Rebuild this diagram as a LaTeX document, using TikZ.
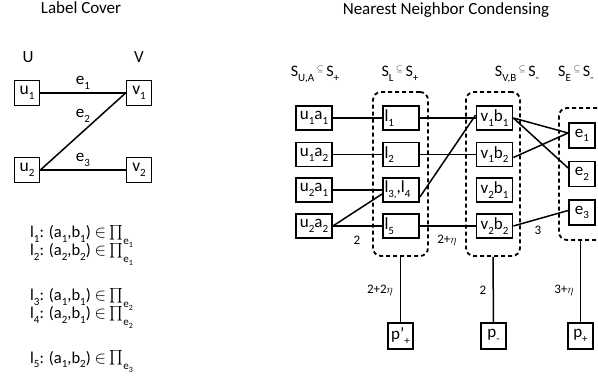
\documentclass[tikz,border=0pt]{standalone}
\usepackage{fontspec}
\setmainfont{Carlito}
\usepackage{graphicx}
\newcommand{\dn}[1]{\raisebox{-0.28em}{\fontsize{11}{11}\selectfont #1}}
\newcommand{\bigprod}{\raisebox{-0.05em}{\scalebox{1.45}{$\prod$}}}
\newcommand{\pie}[1]{\bigprod\raisebox{-0.42em}{\fontsize{11}{11}\selectfont e\raisebox{-0.22em}{\fontsize{8}{8}\selectfont #1}}}
\newcommand{\sse}{\raisebox{0.35em}{\scalebox{0.5}{$\subseteq$}}}
\tikzset{
  lbox/.style={draw, line width=1.8pt, minimum width=25pt, minimum height=25pt, inner sep=0pt, font=\fontsize{17.5}{17.5}\selectfont},
  rbox/.style={draw, line width=1.8pt, minimum width=36pt, minimum height=24pt, inner sep=0pt, font=\fontsize{17}{17}\selectfont},
  lcell/.style={rbox, text width=33pt, align=left, inner xsep=1.5pt},
  ebox/.style={draw, line width=1.8pt, minimum width=26pt, minimum height=25pt, inner sep=0pt, font=\fontsize{17}{17}\selectfont},
  pbox/.style={draw, line width=1.8pt, minimum width=25pt, minimum height=26pt, inner sep=0pt, font=\fontsize{17}{17}\selectfont},
  group/.style={draw, dashed, dash pattern=on 4pt off 3pt, line width=1.8pt, rounded corners=8pt, inner sep=0pt},
  conn/.style={line width=1.5pt},
  title/.style={font=\fontsize{17}{17}\selectfont, anchor=base},
  hdr/.style={font=\fontsize{16}{16}\selectfont, anchor=base},
  wlab/.style={font=\fontsize{13}{13}\selectfont},
  txt/.style={font=\fontsize{16.5}{16.5}\selectfont, anchor=base west, inner sep=0pt}
}
\begin{document}
\begin{tikzpicture}[x=1pt,y=-1pt]
\useasboundingbox (0,0) rectangle (598,377);
% ---------- Label Cover ----------
\node[title] (t1) at (81,14) {Label Cover};
\node[title] (U) at (28,63) {U};
\node[title] (V) at (139,63) {V};
\node[lbox] (u1) at (27,93) {u\dn{1}};
\node[lbox] (v1) at (139,93) {v\dn{1}};
\node[lbox] (u2) at (27,170) {u\dn{2}};
\node[lbox] (v2) at (139,170) {v\dn{2}};
\draw[conn] (u1.east) -- (v1.west);
\draw[conn] (u2.east) -- (v1.west);
\draw[conn] (u2.east) -- (v2.west);
\node[title] (le1) at (83,85) {e\dn{1}};
\node[title] (le2) at (83,118) {e\dn{2}};
\node[title] (le3) at (83,162) {e\dn{3}};
\node[txt] (c1) at (30,238) {l\dn{1}: (a\dn{1},b\dn{1}) $\in$ \pie{1}};
\node[txt] (c2) at (30,256) {l\dn{2}: (a\dn{2},b\dn{2}) $\in$ \pie{1}};
\node[txt] (c3) at (30,301) {l\dn{3}: (a\dn{1},b\dn{1}) $\in$ \pie{2}};
\node[txt] (c4) at (30,319) {l\dn{4}: (a\dn{2},b\dn{1}) $\in$ \pie{2}};
\node[txt] (c5) at (30,363) {l\dn{5}: (a\dn{1},b\dn{2}) $\in$ \pie{3}};
% ---------- Nearest Neighbor Condensing ----------
\node[title] (t2) at (446,15) {Nearest Neighbor Condensing};
\node[hdr] (h1) at (315,77) {S\dn{U,A}\,\sse\,S\dn{+}};
\node[hdr] (h2) at (400,77) {S\dn{L}\,\sse\,S\dn{+}};
\node[hdr] (h3) at (517,77) {S\dn{V,B}\,\sse\,S\dn{-}};
\node[hdr, anchor=base west, inner sep=0pt] (h4) at (558,77) {S\dn{E}\,\sse\,S\dn{-}};
\node[group, minimum width=55pt, minimum height=164pt] (Ld) at (400.5,174) {};
\node[group, minimum width=54pt, minimum height=164pt] (Vd) at (493,174) {};
\node[group, minimum width=46pt, minimum height=132pt] (Ed) at (582,174) {};
\node[rbox] (ua11) at (314,118) {u\dn{1}a\dn{1}};
\node[rbox] (ua12) at (314,154.5) {u\dn{1}a\dn{2}};
\node[rbox] (ua21) at (314,190) {u\dn{2}a\dn{1}};
\node[rbox] (ua22) at (314,226) {u\dn{2}a\dn{2}};
\node[lcell] (l1) at (401,118) {l\dn{1}};
\node[lcell] (l2) at (401,154.5) {l\dn{2}};
\node[lcell] (l34) at (401,190) {l\dn{3,},l\dn{4}};
\node[lcell] (l5) at (401,226) {l\dn{5}};
\node[rbox] (vb11) at (494.5,118) {v\dn{1}b\dn{1}};
\node[rbox] (vb12) at (494.5,154.5) {v\dn{1}b\dn{2}};
\node[rbox] (vb21) at (494.5,190) {v\dn{2}b\dn{1}};
\node[rbox] (vb22) at (494.5,226) {v\dn{2}b\dn{2}};
\node[ebox] (e1) at (582,135.5) {e\dn{1}};
\node[ebox] (e2) at (582,174) {e\dn{2}};
\node[ebox] (e3) at (582,212.5) {e\dn{3}};
\node[pbox] (pp) at (400.5,336) {p’\dn{+}};
\node[pbox] (pm) at (493.5,336) {p\dn{-}};
\node[pbox] (ppl) at (580.5,336) {p\dn{+}};
% connectors
\draw[conn] (ua11) -- (l1);
\draw[conn] (ua12) -- (l2);
\draw[conn] (ua21) -- (l34);
\draw[conn] (ua22) -- (l5);
\draw[conn] (ua22.east) -- ([yshift=-4pt]l34.west);
\draw[conn] (l1) -- (vb11);
\draw[conn] (l2) -- (vb12);
\draw[conn] (l5) -- (vb22);
\draw[conn] ([yshift=-7pt]l34.east) -- ([yshift=3pt]vb11.west);
\draw[conn] (vb11.east) -- ([yshift=2.5pt]e1.west);
\draw[conn] (vb11.east) -- ([yshift=6pt]e2.west);
\draw[conn] ([yshift=-3pt]vb12.east) -- ([yshift=2.5pt]e1.west);
\draw[conn] (vb22.east) -- ([yshift=2pt]e3.west);
\draw[conn] (Ld.south) -- (pp.north);
\draw[conn] (Vd.south) -- (pm.north);
\draw[conn] (ppl.north) -- (ppl.north |- Ed.south);
% weights
\node[wlab] (w1) at (357,240) {2};
\node[wlab] (w2) at (447,240) {2+$\eta$};
\node[wlab] (w3) at (538,230) {3};
\node[wlab] (w4) at (380,290) {2+2$\eta$};
\node[wlab] (w5) at (483,290) {2};
\node[wlab] (w6) at (564,290) {3+$\eta$};
\end{tikzpicture}
\end{document}
